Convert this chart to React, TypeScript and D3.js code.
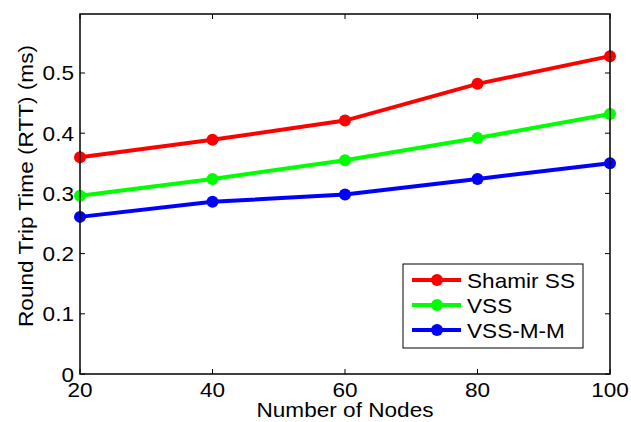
import * as d3 from "d3";

const nodes = [20, 40, 60, 80, 100];
const shamir = [0.36, 0.389, 0.421, 0.482, 0.528];
const vss = [0.296, 0.324, 0.355, 0.392, 0.432];
const vssMM = [0.261, 0.286, 0.298, 0.324, 0.35];
const seriesNames = ["Shamir SS", "VSS", "VSS-M-M"];
const seriesColors = ["#ff0000", "#00ff00", "#0000ff"];
const yTicks = [0, 0.1, 0.2, 0.3, 0.4, 0.5];

const W = 631;
const H = 422;
const m = { left: 80, right: 21, top: 14, bottom: 48 };
const font = "Liberation Sans, Arial, sans-serif";
const FS = 20;
const SX = 1.13; // the reference text is a little stretched along its baseline

// text drawn at (x, y) and stretched horizontally
function T(props: { x: number; y: number; anchor?: string; children: any; rot?: boolean }) {
  const { x, y, anchor = "start", children, rot } = props;
  return (
    <text
      transform={`translate(${x},${y})${rot ? " rotate(-90)" : ""} scale(${SX},1)`}
      textAnchor={anchor}
      fontSize={FS}
    >
      {children}
    </text>
  );
}

export default function App() {
  const x = d3.scaleLinear().domain([20, 100]).range([m.left, W - m.right]);
  const y = d3.scaleLinear().domain([0, 0.598]).range([H - m.bottom, m.top]);
  const line = d3
    .line<number>()
    .x((_, i) => x(nodes[i]))
    .y((d) => y(d));
  const all = [shamir, vss, vssMM];
  const x0 = m.left;
  const x1 = W - m.right;
  const y0 = H - m.bottom;
  const y1 = m.top;

  return (
    <svg
      width={W}
      height={H}
      style={{ position: "absolute", left: 0, top: 0, background: "#fff" }}
      fontFamily={font}
    >
      <rect x={0} y={0} width={W} height={H} fill="#fff" />
      {/* ticks on all four sides, pointing inward */}
      {nodes.map((n) => (
        <g key={"xt" + n} stroke="#000" strokeWidth={1}>
          <line x1={x(n)} x2={x(n)} y1={y0} y2={y0 - 5} />
          <line x1={x(n)} x2={x(n)} y1={y1} y2={y1 + 5} />
        </g>
      ))}
      {yTicks.map((t) => (
        <g key={"yt" + t} stroke="#000" strokeWidth={1}>
          <line x1={x0} x2={x0 + 5} y1={y(t)} y2={y(t)} />
          <line x1={x1} x2={x1 - 5} y1={y(t)} y2={y(t)} />
        </g>
      ))}
      {all.map((s, k) => (
        <g key={seriesNames[k]}>
          <path d={line(s) ?? ""} fill="none" stroke={seriesColors[k]} strokeWidth={4} />
          {s.map((v, i) => (
            <circle key={i} cx={x(nodes[i])} cy={y(v)} r={6} fill={seriesColors[k]} />
          ))}
        </g>
      ))}
      <rect
        x={x0}
        y={y1}
        width={x1 - x0}
        height={y0 - y1}
        fill="none"
        stroke="#000"
        strokeWidth={1.5}
      />
      {nodes.map((n) => (
        <T key={"xl" + n} x={x(n)} y={y0 + 23} anchor="middle">
          {n}
        </T>
      ))}
      {yTicks.map((t) => (
        <T key={"yl" + t} x={x0 - 6} y={y(t) + 7.5} anchor="end">
          {t === 0 ? "0" : t.toFixed(1)}
        </T>
      ))}
      <T x={(x0 + x1) / 2} y={H - 5} anchor="middle">
        Number of Nodes
      </T>
      <T x={33} y={186} anchor="middle" rot>
        Round Trip Time (RTT) (ms)
      </T>
      {/* legend */}
      <g>
        <rect x={403} y={264} width={180} height={84} fill="#fff" stroke="#000" strokeWidth={1} />
        {seriesNames.map((name, k) => (
          <g key={"lg" + name}>
            <line
              x1={412}
              x2={461}
              y1={280 + k * 25}
              y2={280 + k * 25}
              stroke={seriesColors[k]}
              strokeWidth={4}
            />
            <circle cx={437} cy={280 + k * 25} r={6} fill={seriesColors[k]} />
            <T x={467} y={288 + k * 25}>
              {name}
            </T>
          </g>
        ))}
      </g>
    </svg>
  );
}
